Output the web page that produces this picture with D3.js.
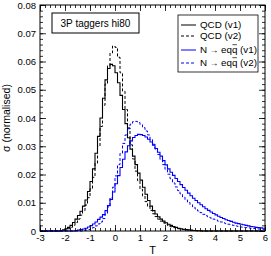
<!DOCTYPE html>
<html>
<head>
<meta charset="utf-8">
<script src="https://cdn.jsdelivr.net/npm/d3@7"></script>
<style>
body { margin: 0; background: #fff; }
text { font-family: "Liberation Sans", Arial, sans-serif; }
</style>
</head>
<body>
<div class="chart"></div>
<script>
var margin = {top: 5, right: 6, bottom: 25, left: 40};
var width = 271 - margin.left - margin.right;
var height = 256 - margin.top - margin.bottom;

// histogram bins: lower edges from -3 to 5.9, width 0.1
var binWidth = 0.1;
var binEdges = d3.range(90).map(i => Math.round((-3 + i * binWidth) * 10) / 10);

var qcdV1 = [
    0, 0, 0, 0, 0, 0, 0, 0, 0.0002, 0.0004,
    0.0008, 0.0013, 0.0020, 0.0030, 0.0042, 0.0055, 0.0070, 0.0088, 0.0110, 0.0140,
    0.0175, 0.0220, 0.0275, 0.0335, 0.0400, 0.0470, 0.0535, 0.0575, 0.0590, 0.0585,
    0.0560, 0.0525, 0.0480, 0.0430, 0.0380, 0.0330, 0.0290, 0.0265, 0.0235, 0.0205,
    0.0180, 0.0155, 0.0130, 0.0108, 0.0088, 0.0072, 0.0060, 0.0050, 0.0042, 0.0035,
    0.0029, 0.0024, 0.0020, 0.0016, 0.0013, 0.0010, 0.0008, 0.0006, 0.0005, 0.0004,
    0.0003, 0.0002, 0.0002, 0.0001, 0.0001, 0, 0, 0, 0, 0,
    0, 0, 0, 0, 0, 0, 0, 0, 0, 0,
    0, 0, 0, 0, 0, 0, 0, 0, 0, 0
];
var qcdV2 = [
    0, 0, 0, 0, 0, 0, 0, 0, 0, 0.0002,
    0.0004, 0.0008, 0.0013, 0.0020, 0.0030, 0.0042, 0.0056, 0.0072, 0.0092, 0.0118,
    0.0150, 0.0190, 0.0240, 0.0300, 0.0370, 0.0445, 0.0520, 0.0585, 0.0630, 0.0655,
    0.0650, 0.0615, 0.0560, 0.0495, 0.0430, 0.0365, 0.0305, 0.0255, 0.0212, 0.0178,
    0.0148, 0.0124, 0.0104, 0.0087, 0.0073, 0.0061, 0.0051, 0.0042, 0.0035, 0.0029,
    0.0024, 0.0019, 0.0015, 0.0012, 0.0010, 0.0008, 0.0006, 0.0005, 0.0004, 0.0003,
    0.0002, 0.0002, 0.0001, 0, 0, 0, 0, 0, 0, 0,
    0, 0, 0, 0, 0, 0, 0, 0, 0, 0,
    0, 0, 0, 0, 0, 0, 0, 0, 0, 0
];
var nV1 = [
    0, 0, 0, 0, 0, 0, 0, 0, 0, 0,
    0, 0, 0, 0, 0.0002, 0.0003, 0.0005, 0.0007, 0.0010, 0.0014,
    0.0019, 0.0025, 0.0032, 0.0041, 0.0049, 0.0058, 0.0072, 0.0090, 0.0112, 0.0138,
    0.0167, 0.0196, 0.0225, 0.0254, 0.0280, 0.0302, 0.0319, 0.0331, 0.0338, 0.0342,
    0.0341, 0.0338, 0.0333, 0.0325, 0.0315, 0.0304, 0.0292, 0.0279, 0.0265, 0.0249,
    0.0234, 0.0220, 0.0208, 0.0197, 0.0186, 0.0175, 0.0164, 0.0154, 0.0144, 0.0134,
    0.0125, 0.0116, 0.0108, 0.0100, 0.0093, 0.0086, 0.0079, 0.0073, 0.0067, 0.0062,
    0.0057, 0.0052, 0.0048, 0.0044, 0.0040, 0.0037, 0.0034, 0.0031, 0.0028, 0.0026,
    0.0024, 0.0022, 0.0020, 0.0018, 0.0016, 0.0015, 0.0013, 0.0012, 0.0011, 0.0010
];
var nV2 = [
    0, 0, 0, 0, 0, 0, 0, 0, 0, 0,
    0, 0, 0, 0, 0, 0, 0, 0.0002, 0.0003, 0.0005,
    0.0008, 0.0012, 0.0018, 0.0025, 0.0032, 0.0044, 0.0060, 0.0085, 0.0118, 0.0155,
    0.0195, 0.0235, 0.0275, 0.0310, 0.0340, 0.0362, 0.0378, 0.0387, 0.0388, 0.0384,
    0.0376, 0.0366, 0.0354, 0.0340, 0.0324, 0.0307, 0.0289, 0.0271, 0.0253, 0.0235,
    0.0218, 0.0201, 0.0185, 0.0170, 0.0156, 0.0143, 0.0131, 0.0120, 0.0110, 0.0101,
    0.0093, 0.0085, 0.0078, 0.0071, 0.0065, 0.0059, 0.0054, 0.0050, 0.0046, 0.0042,
    0.0039, 0.0035, 0.0032, 0.0029, 0.0026, 0.0024, 0.0022, 0.0020, 0.0018, 0.0016,
    0.0014, 0.0013, 0.0012, 0.0011, 0.0010, 0.0009, 0.0008, 0.0007, 0.0006, 0.0006
];

var xTicks = [-3, -2, -1, 0, 1, 2, 3, 4, 5, 6];
var yTicks = [0, 0.01, 0.02, 0.03, 0.04, 0.05, 0.06, 0.07, 0.08];
var xMinor = d3.range(-3, 6.01, 0.2);
var yMinor = d3.range(0, 0.0801, 0.002);

var series = [
    {name: 'QCD (v1)', values: qcdV1, color: '#000', dash: null},
    {name: 'QCD (v2)', values: qcdV2, color: '#000', dash: '3,2'},
    {name: 'N \u2192 eqq', values: nV1, color: '#0000ff', dash: null, bar: true},
    {name: 'N \u2192 eqq', values: nV2, color: '#0000ff', dash: '3,2', bar: true}
];
var versions = ['(v1)', '(v2)', '(v1)', '(v2)'];

var xScale = d3.scaleLinear().domain([-3, 6]).range([0, width]);
var yScale = d3.scaleLinear().domain([0, 0.08]).range([height, 0]);

var svg = d3.select('.chart').append('svg')
    .attr('width', 271)
    .attr('height', 256)
    .append('g')
    .attr('transform', `translate(${margin.left},${margin.top})`);

function stepPoints(values) {
    var pts = [];
    values.forEach((v, i) => {
        pts.push([binEdges[i], v]);
        pts.push([binEdges[i] + binWidth, v]);
    });
    return pts;
}

var line = d3.line()
    .x(d => xScale(d[0]))
    .y(d => yScale(d[1]));

var curves = svg.append('g').attr('class', 'curves');
series.forEach(s => {
    curves.append('path')
        .attr('d', line(stepPoints(s.values)))
        .attr('fill', 'none')
        .attr('stroke', s.color)
        .attr('stroke-width', s.dash ? 1 : 1.1)
        .attr('stroke-dasharray', s.dash);
});

function styleAxis(g) {
    g.select('.domain').remove();
    g.selectAll('line').attr('stroke', '#000').attr('stroke-width', 0.8);
    g.selectAll('text').attr('fill', '#000').style('font-size', '9.5px');
}

// bottom
svg.append('g').attr('transform', `translate(0,${height})`)
    .call(d3.axisBottom(xScale).tickValues(xMinor).tickSize(-3).tickFormat(''))
    .call(styleAxis);
svg.append('g').attr('transform', `translate(0,${height})`)
    .call(d3.axisBottom(xScale).tickValues(xTicks).tickSize(-6).tickPadding(3).tickFormat(d => String(d)))
    .call(styleAxis);
// top
svg.append('g')
    .call(d3.axisTop(xScale).tickValues(xMinor).tickSize(-3).tickFormat(''))
    .call(styleAxis);
svg.append('g')
    .call(d3.axisTop(xScale).tickValues(xTicks).tickSize(-6).tickFormat(''))
    .call(styleAxis);
// left
svg.append('g')
    .call(d3.axisLeft(yScale).tickValues(yMinor).tickSize(-3).tickFormat(''))
    .call(styleAxis);
svg.append('g')
    .call(d3.axisLeft(yScale).tickValues(yTicks).tickSize(-6).tickPadding(4)
        .tickFormat(d => d === 0 ? '0' : d.toFixed(2)))
    .call(styleAxis);
// right
svg.append('g').attr('transform', `translate(${width},0)`)
    .call(d3.axisRight(yScale).tickValues(yMinor).tickSize(-3).tickFormat(''))
    .call(styleAxis);
svg.append('g').attr('transform', `translate(${width},0)`)
    .call(d3.axisRight(yScale).tickValues(yTicks).tickSize(-6).tickFormat(''))
    .call(styleAxis);

svg.append('rect')
    .attr('width', width).attr('height', height)
    .attr('fill', 'none').attr('stroke', '#000').attr('stroke-width', 1);

// axis titles
svg.append('text')
    .attr('x', xScale(1.5)).attr('y', height + 23)
    .attr('text-anchor', 'middle')
    .style('font-size', '11px')
    .text('T');
svg.append('text')
    .attr('transform', `translate(${-30},${height / 2}) rotate(-90)`)
    .attr('text-anchor', 'middle')
    .style('font-size', '10.5px')
    .text('\u03c3 (normalised)');

// title box
var titleG = svg.append('g').attr('transform', 'translate(12,8)');
titleG.append('rect')
    .attr('width', 87).attr('height', 20)
    .attr('fill', '#fff').attr('stroke', '#000').attr('stroke-width', 1);
titleG.append('text')
    .attr('x', 43.5).attr('y', 13.8)
    .attr('text-anchor', 'middle')
    .style('font-size', '10px')
    .text('3P taggers hi80');

// legend
var legend = svg.append('g').attr('transform', 'translate(138,10)');
legend.append('rect')
    .attr('width', 80).attr('height', 57)
    .attr('fill', '#fff').attr('stroke', '#000').attr('stroke-width', 0.8);
var rowY = [10, 21, 35, 48];
series.forEach((s, i) => {
    var row = legend.append('g').attr('transform', `translate(0,${rowY[i]})`);
    row.append('line')
        .attr('x1', 3).attr('x2', 18)
        .attr('stroke', s.color)
        .attr('stroke-width', 1)
        .attr('stroke-dasharray', s.dash);
    var t = row.append('text')
        .attr('x', 22).attr('y', 3.4)
        .style('font-size', '9.8px');
    if (s.bar) {
        t.append('tspan').text('N ');
        t.append('tspan').style('font-size', '8.5px').text('\u2192');
        t.append('tspan').text(' eqq ' + versions[i]);
        // bar over the last q
        var box = t.node().getExtentOfChar(6);
        row.append('line')
            .attr('x1', box.x + 0.5).attr('x2', box.x + box.width - 0.5)
            .attr('y1', -5.3).attr('y2', -5.3)
            .attr('stroke', '#000').attr('stroke-width', 0.7);
    } else {
        t.text(s.name);
    }
});
</script>
</body>
</html>
